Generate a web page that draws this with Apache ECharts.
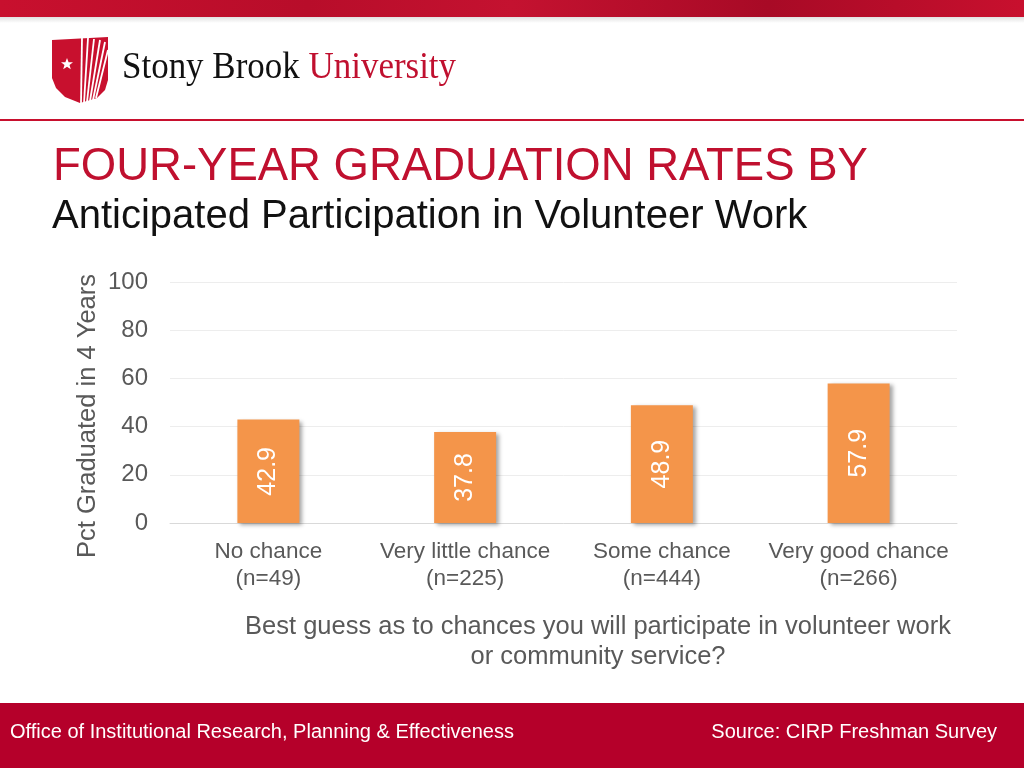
<!DOCTYPE html>
<html><head><meta charset="utf-8">
<script src="https://cdn.jsdelivr.net/npm/echarts@6/dist/echarts.min.js"></script>
<style>html,body{margin:0;padding:0;background:#fff}#c{width:1024px;height:768px}</style>
</head><body><div id="c"></div>
<script>
const categories = ["No chance", "Very little chance", "Some chance", "Very good chance"];
const sampleSizes = ["(n=49)", "(n=225)", "(n=444)", "(n=266)"];
const values = [42.9, 37.8, 48.9, 57.9];
const yTicks = [0, 20, 40, 60, 80, 100];

const chart = echarts.init(document.getElementById('c'));
const FONT = '"Liberation Sans", Arial, sans-serif';
const SERIF = '"Liberation Serif", "DejaVu Serif", serif';
const RED = '#C0102F';

// logo stripes
const stripes = [];
[[81,103,82,38],[84,103,88,38],[87,102,94,39],[90,101,100,40],[93,100,105,42],[96,98,108,50]].forEach(s=>{
  stripes.push({type:'line', shape:{x1:s[0],y1:s[1],x2:s[2],y2:s[3]}, style:{stroke:'#fff', lineWidth:1.8}, z:12});
});

chart.setOption({
  animation:false,
  backgroundColor:'#fff',
  grid:{left:170, right:67, top:282, bottom:245, containLabel:false},
  xAxis:{
    type:'category', data:categories.map((c,i)=>c+'\n'+sampleSizes[i]),
    axisLine:{show:true, lineStyle:{color:'#D9D9D9', width:1}},
    axisTick:{show:false},
    axisLabel:{color:'#595959', fontFamily:FONT, fontSize:22.5, lineHeight:27, margin:15, interval:0}
  },
  yAxis:{
    type:'value', min:0, max:100, interval:20,
    axisLine:{show:false}, axisTick:{show:false},
    axisLabel:{color:'#595959', fontFamily:FONT, fontSize:24, margin:22,
      formatter:v=>yTicks.includes(v)?String(v):''},
    splitLine:{lineStyle:{color:'#EDEDED', width:1}}
  },
  series:[{
    type:'bar', data:values, barWidth:'31.5%',
    itemStyle:{color:'#F4954A', shadowColor:'rgba(0,0,0,0.35)', shadowBlur:4, shadowOffsetX:3, shadowOffsetY:2},
    label:{show:true, position:'inside', rotate:90, color:'#fff', fontFamily:FONT, fontSize:25,
      formatter:p=>p.value.toFixed(1)}
  }],
  graphic:[
    // top band
    {type:'rect', shape:{x:0,y:0,width:1024,height:17}, style:{fill:{type:'linear',x:0,y:0,x2:1,y2:0,colorStops:[
      {offset:0,color:'#C8102E'},{offset:0.3,color:'#B80D2A'},{offset:0.5,color:'#C41230'},{offset:0.75,color:'#A80A26'},{offset:1,color:'#C8102E'}]}}, z:10},
    {type:'rect', shape:{x:0,y:17,width:1024,height:6}, style:{fill:{type:'linear',x:0,y:0,x2:0,y2:1,colorStops:[
      {offset:0,color:'rgba(0,0,0,0.12)'},{offset:1,color:'rgba(0,0,0,0)'}]}}, z:10},
    // logo shield
    {type:'polygon', shape:{points:[[52,40],[108,37],[108,80],[105,90],[97,98],[80,103],[65,97],[56,88],[52,78]]},
      style:{fill:'#C8102E'}, z:11},
    ...stripes,
    {type:'polygon', shape:{points:[[67,58],[68.6,62.2],[73,62.3],[69.5,65],[70.8,69.3],[67,66.8],[63.2,69.3],[64.5,65],[61,62.3],[65.4,62.2]]},
      style:{fill:'#fff'}, z:12},
    {type:'text', x:122, y:49, scaleX:0.92, style:{
      text:'{a|Stony Brook }{b|University}',
      rich:{a:{fill:'#111', fontFamily:SERIF, fontSize:38},
            b:{fill:RED, fontFamily:SERIF, fontSize:38}}}, z:12},
    // rule line
    {type:'rect', shape:{x:0,y:119,width:1024,height:2}, style:{fill:'#C8102E'}, z:10},
    // titles
    {type:'text', left:53, top:144, style:{text:'FOUR-YEAR GRADUATION RATES BY', fill:RED, fontFamily:FONT, fontSize:45.5}, z:10},
    {type:'text', left:52, top:197, style:{text:'Anticipated Participation in Volunteer Work', fill:'#111', fontFamily:FONT, fontSize:40}, z:10},
    // y axis title
    {type:'text', x:88, y:416, rotation:Math.PI/2, style:{text:'Pct Graduated in 4 Years', fill:'#595959', fontFamily:FONT, fontSize:25.5,
      align:'center', verticalAlign:'middle'}, z:10},
    // x axis title
    {type:'text', x:598, y:612, style:{text:'Best guess as to chances you will participate in volunteer work\nor community service?',
      fill:'#595959', fontFamily:FONT, fontSize:25.5, lineHeight:30, align:'center'}, z:10},
    // footer
    {type:'rect', shape:{x:0,y:703,width:1024,height:65}, style:{fill:'#B5002A'}, z:10},
    {type:'text', left:10, top:722, style:{text:'Office of Institutional Research, Planning & Effectiveness', fill:'#fff', fontFamily:FONT, fontSize:20}, z:11},
    {type:'text', right:27, top:722, style:{text:'Source: CIRP Freshman Survey', fill:'#fff', fontFamily:FONT, fontSize:20}, z:11}
  ]
});
</script></body></html>
